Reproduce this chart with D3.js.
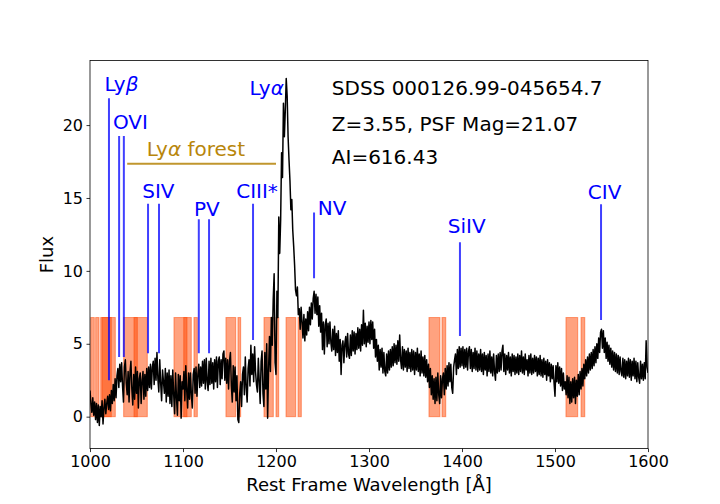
<!DOCTYPE html>
<html>
<head>
<meta charset="utf-8">
<script src="https://cdn.jsdelivr.net/npm/d3@7"></script>
<style>
  body { margin: 0; background: white; }
  text { font-family: "DejaVu Sans", sans-serif; }
</style>
</head>
<body>
<div id="spectrum"></div>
<script>
// Flux, one value every 1 A from 1000 to 1600 (rows of 20 A)
const waveStart = 1000, waveStep = 1;
const flux = [
  1.8, 0.9, 0.3, 1.3, 0.1, 1.0, -0.2, 0.9, -0.4, 0.8, -0.6, 0.7, 0.0, 1.1, -0.5, 0.6, 1.2, 0.2, 0.9, 1.4,
  0.5, 1.5, 0.4, 1.8, 0.9, 2.2, 1.1, 2.6, 1.3, 2.8, 3.3, 2.0, 3.6, 2.4, 3.7, 2.1, 1.0, 3.4, 3.9, 2.3,
  1.5, 3.1, 1.0, 3.0, 3.8, 1.9, 0.8, 2.9, 1.2, 3.4, 1.6, 3.1, 0.6, 2.6, 3.0, 0.9, 2.5, 3.1, 1.2, 2.9,
  1.4, 3.3, 1.8, 3.4, 2.0, 3.6, 1.9, 3.4, 3.8, 2.2, 4.0, 2.5, 4.4, 2.6, 1.7, 3.9, 2.3, 1.1, 3.2, 2.4,
  1.6, 3.3, 1.0, 3.0, 1.4, 3.2, 0.9, 2.8, 0.7, 3.2, 1.5, 0.2, 3.0, 1.3, 0.1, 2.9, 1.1, 2.8, -0.1, 2.4,
  1.9, 3.1, 1.1, 3.5, 1.8, 0.6, 3.0, 1.2, 3.0, 1.5, 0.6, 2.9, 3.3, 1.6, 3.4, 1.4, 2.9, 3.6, 2.0, 3.4,
  2.1, 3.8, 2.3, 3.9, 1.9, 4.0, 2.4, 1.8, 3.8, 2.2, 4.0, 2.3, 3.7, 1.9, 3.9, 2.4, 4.1, 2.0, 3.8, 4.1,
  2.2, 3.9, 2.6, 4.3, 4.5, 2.5, 4.0, 2.3, 3.9, 1.9, 3.8, 4.4, 2.1, 1.0, 3.5, 1.7, 3.4, 1.1, 2.8, -0.2,
  -0.4, 1.6, 2.4, 0.7, 2.9, 3.4, 1.5, 4.1, 2.0, 1.0, 3.3, 3.9, 2.1, 4.9, 2.9, 4.3, 2.4, 4.8, 3.1, 2.2,
  1.7, 4.0, 2.4, 0.9, 3.8, 4.5, 1.6, 0.7, 4.4, 1.9, 5.0, -0.1, 3.2, 5.5, 3.1, 6.8, 4.9, 8.0, 9.8, 3.7,
  2.9, 8.6, 6.8, 13.7, 11.2, 13.5, 18.1, 16.4, 21.5, 19.2, 21.0, 23.2, 22.0, 19.2, 17.6, 16.2, 14.2, 14.9, 12.8, 11.7,
  10.4, 8.7, 8.3, 8.9, 7.0, 7.4, 6.0, 7.5, 6.5, 5.4, 7.0, 5.2, 6.7, 5.6, 7.2, 5.9, 7.5, 6.3, 7.8, 6.7,
  8.1, 8.6, 7.1, 8.4, 7.0, 8.2, 6.2, 7.6, 5.8, 7.1, 4.6, 6.5, 4.3, 6.3, 6.7, 4.8, 6.4, 5.0, 6.5, 5.1,
  4.5, 6.0, 4.6, 6.2, 4.2, 5.7, 4.4, 5.9, 3.8, 5.3, 2.9, 4.9, 5.2, 3.7, 5.0, 5.5, 4.1, 5.7, 4.3, 4.0,
  5.6, 4.2, 5.9, 4.5, 5.8, 4.3, 5.7, 4.6, 6.1, 4.7, 6.0, 4.5, 6.3, 4.9, 7.3, 5.0, 6.4, 4.8, 6.2, 5.1,
  6.5, 5.0, 6.6, 5.3, 6.5, 4.7, 6.0, 4.1, 5.3, 3.8, 4.9, 3.2, 4.6, 3.4, 4.7, 3.0, 4.4, 3.1, 2.8, 4.3,
  3.0, 4.5, 3.2, 4.6, 3.4, 4.8, 3.5, 5.0, 3.7, 4.9, 3.6, 5.2, 3.8, 5.6, 3.9, 3.3, 4.8, 3.2, 4.6, 3.4,
  4.5, 3.1, 4.7, 3.3, 4.4, 3.1, 4.6, 3.2, 4.5, 2.9, 4.4, 3.2, 4.7, 3.1, 4.3, 2.8, 4.5, 3.0, 4.1, 2.8,
  4.2, 2.7, 3.9, 2.4, 3.6, 2.0, 3.3, 1.5, 2.8, 1.2, 2.6, 0.9, 2.7, 1.1, 3.0, 1.5, 0.9, 2.8, 1.3, 2.6,
  3.0, 1.5, 3.3, 1.9, 3.5, 2.1, 3.7, 2.4, 3.6, 2.0, 1.6, 3.4, 3.9, 4.3, 2.9, 4.6, 3.3, 4.8, 3.4, 4.7,
  3.5, 4.8, 3.3, 4.6, 3.4, 4.7, 3.2, 4.5, 4.8, 3.3, 4.6, 3.1, 4.4, 3.3, 4.7, 3.2, 4.5, 3.1, 4.3, 3.2,
  4.6, 3.1, 4.3, 2.9, 4.4, 3.2, 4.2, 2.8, 4.3, 3.1, 4.5, 3.0, 4.1, 2.8, 4.3, 3.1, 2.5, 4.2, 3.0, 4.3,
  3.1, 4.4, 3.2, 4.5, 4.9, 3.1, 4.3, 2.9, 4.2, 3.2, 4.4, 3.0, 4.1, 2.8, 4.3, 3.1, 4.2, 2.9, 4.1, 3.0,
  4.3, 2.9, 4.2, 3.1, 4.5, 3.0, 4.1, 2.9, 4.3, 3.2, 3.9, 2.8, 4.2, 3.0, 4.3, 2.9, 4.0, 3.0, 4.2, 3.1,
  4.1, 2.8, 4.0, 2.9, 4.2, 2.8, 3.9, 2.7, 4.0, 2.9, 3.8, 2.5, 3.9, 2.8, 3.7, 2.4, 3.6, 2.6, 3.5, 2.3,
  1.4, 3.5, 2.4, 3.7, 2.3, 3.4, 2.1, 3.3, 1.8, 3.0, 1.9, 2.4, 1.5, 2.8, 1.3, 2.7, 0.9, 2.4, 1.0, 2.6,
  1.3, 2.7, 0.9, 2.5, 1.4, 2.9, 1.5, 3.1, 1.9, 3.3, 2.1, 3.6, 2.6, 3.9, 2.8, 4.1, 3.0, 4.3, 3.2, 4.4,
  3.3, 4.6, 3.5, 4.8, 3.7, 5.0, 4.0, 5.4, 4.4, 5.8, 6.0, 4.7, 5.9, 4.4, 5.4, 4.0, 5.1, 3.8, 4.9, 3.6,
  4.7, 3.4, 4.5, 3.2, 4.4, 3.1, 4.3, 3.0, 4.2, 2.9, 4.1, 3.1, 2.8, 4.0, 2.7, 3.9, 2.6, 3.8, 2.8, 4.0,
  2.7, 3.9, 2.5, 3.8, 2.8, 4.0, 2.6, 3.8, 2.4, 3.7, 2.7, 2.3, 3.8, 2.6, 3.6, 2.5, 3.7, 2.6, 5.2, 3.4,
  3.0
];

// Shaded absorption windows [start, end] in A
const spanStart = [1000.8, 1006.1, 1011.5, 1012.9, 1036.2, 1047.3, 1090.3, 1100.8, 1111.8,
                   1146.2, 1159.1, 1187.1, 1200.0, 1210.8, 1223.7, 1364.5, 1378.5, 1511.8, 1528.0];
const spanEnd   = [1004.6, 1009.7, 1022.9, 1027.2, 1050.9, 1061.6, 1104.3, 1108.9, 1115.4,
                   1156.7, 1162.0, 1197.1, 1202.9, 1221.2, 1227.2, 1376.3, 1382.5, 1524.4, 1532.0];
const spanTop = 6.8;

// Emission / absorption line markers
const markerWave   = [1020.4, 1031.3, 1036.4, 1062.4, 1074.2, 1117.0, 1128.0, 1175.3, 1240.9, 1397.8, 1549.5];
const markerTop    = [21.84, 19.25, 19.25, 14.6, 14.6, 13.54, 13.54, 14.6, 14.0, 11.96, 14.57];
const markerBottom = [2.5, 4.1, 4.1, 4.35, 4.35, 4.35, 4.35, 5.26, 9.5, 5.53, 6.63];

// Line labels: [plain part, greek part]
const labelText  = [['Ly', 'β'], ['OVI', ''], ['SIV', ''], ['PV', ''], ['CIII*', ''],
                    ['Ly', 'α'], ['NV', ''], ['SiIV', ''], ['CIV', '']];
const labelWave  = [1015.6, 1024.6, 1056.2, 1111.7, 1157.2, 1171.5, 1245.0, 1384.8, 1535.3];
const labelFlux  = [22.34, 19.7, 15.0, 13.77, 15.0, 22.05, 13.8, 12.58, 14.95];

// Lyman alpha forest bracket
const forestRange = [1040, 1200];
const forestFlux = 17.35;

// Object info
const infoLines = ['SDSS 000126.99-045654.7', 'Z=3.55, PSF Mag=21.07', 'AI=616.43'];
const infoWave = 1260;
const infoFlux = [22.07, 19.62, 17.35];

const xTicks = [1000, 1100, 1200, 1300, 1400, 1500, 1600];
const yTicks = [0, 5, 10, 15, 20];

let width = 720, height = 504;
let margin = { top: 60.5, bottom: 55.4, left: 90, right: 72 };

let svg = d3.select('#spectrum')
  .append('svg')
  .attr('width', width)
  .attr('height', height)
  .style('background', 'white');

let x = d3.scaleLinear()
  .domain([1000, 1600])
  .range([margin.left, width - margin.right]);

let y = d3.scaleLinear()
  .domain([-2.19, 24.43])
  .range([height - margin.bottom, margin.top]);

// clip to the axes box
svg.append('clipPath')
  .attr('id', 'plot-area')
  .append('rect')
  .attr('x', margin.left)
  .attr('y', margin.top)
  .attr('width', width - margin.left - margin.right)
  .attr('height', height - margin.top - margin.bottom);

let plot = svg.append('g').attr('clip-path', 'url(#plot-area)');

// shaded windows
plot.selectAll('rect.span')
  .data(spanStart)
  .enter()
  .append('rect')
  .attr('class', 'span')
  .attr('x', (d) => x(d))
  .attr('width', (d, i) => x(spanEnd[i]) - x(d))
  .attr('y', y(spanTop))
  .attr('height', y(0) - y(spanTop))
  .attr('fill', 'orangered')
  .attr('fill-opacity', 0.5)
  .attr('stroke', 'orangered')
  .attr('stroke-opacity', 0.5)
  .attr('stroke-width', 1);

// marker lines
plot.selectAll('line.marker')
  .data(markerWave)
  .enter()
  .append('line')
  .attr('class', 'marker')
  .attr('x1', (d) => x(d))
  .attr('x2', (d) => x(d))
  .attr('y1', (d, i) => y(markerTop[i]))
  .attr('y2', (d, i) => y(markerBottom[i]))
  .attr('stroke', 'blue')
  .attr('stroke-opacity', 0.75)
  .attr('stroke-width', 2);

// spectrum
let line = d3.line()
  .x((d, i) => x(waveStart + i * waveStep))
  .y((d) => y(d));

plot.append('path')
  .datum(flux)
  .attr('d', line)
  .attr('fill', 'none')
  .attr('stroke', 'black')
  .attr('stroke-width', 1.5)
  .attr('stroke-linejoin', 'round');

// Lya forest bracket
plot.append('line')
  .attr('x1', x(forestRange[0]))
  .attr('x2', x(forestRange[1]))
  .attr('y1', y(forestFlux))
  .attr('y2', y(forestFlux))
  .attr('stroke', '#c0962e')
  .attr('stroke-width', 2);

let forestLabel = svg.append('text')
  .attr('x', x(1061))
  .attr('y', y(17.88))
  .attr('font-size', 20)
  .attr('fill', '#b8860b');
forestLabel.append('tspan').text('Ly');
forestLabel.append('tspan').attr('font-style', 'italic').text('α');
forestLabel.append('tspan').text(' forest');

// line labels
labelText.forEach((t, i) => {
  let label = svg.append('text')
    .attr('x', x(labelWave[i]))
    .attr('y', y(labelFlux[i]))
    .attr('font-size', 20)
    .attr('fill', 'blue');
  label.append('tspan').text(t[0]);
  if (t[1]) label.append('tspan').attr('font-style', 'italic').text(t[1]);
});

// info text
infoLines.forEach((t, i) => {
  svg.append('text')
    .attr('x', x(infoWave))
    .attr('y', y(infoFlux[i]))
    .attr('font-size', 20)
    .attr('fill', 'black')
    .text(t);
});

// axes
let xAxis = svg.append('g')
  .attr('transform', `translate(0,${height - margin.bottom})`)
  .call(d3.axisBottom(x).tickValues(xTicks).tickFormat(d3.format('d'))
    .tickSize(3.5).tickPadding(3.5));

let yAxis = svg.append('g')
  .attr('transform', `translate(${margin.left},0)`)
  .call(d3.axisLeft(y).tickValues(yTicks).tickSize(3.5).tickPadding(3.5));

[xAxis, yAxis].forEach((g) => {
  g.select('.domain').remove();
  g.selectAll('line').attr('stroke', 'black').attr('stroke-width', 0.8);
  g.selectAll('text')
    .attr('fill', 'black')
    .style('font-family', '"DejaVu Sans", sans-serif')
    .style('font-size', '16px');
});

// frame
svg.append('rect')
  .attr('x', margin.left)
  .attr('y', margin.top)
  .attr('width', width - margin.left - margin.right)
  .attr('height', height - margin.top - margin.bottom)
  .attr('fill', 'none')
  .attr('stroke', 'black')
  .attr('stroke-width', 0.8);

// axis labels
svg.append('text')
  .attr('x', (margin.left + width - margin.right) / 2)
  .attr('y', 491)
  .attr('text-anchor', 'middle')
  .attr('font-size', 18)
  .text('Rest Frame Wavelength [Å]');

svg.append('text')
  .attr('transform', `translate(53,${(margin.top + height - margin.bottom) / 2}) rotate(-90)`)
  .attr('text-anchor', 'middle')
  .attr('font-size', 18)
  .text('Flux');
</script>
</body>
</html>
